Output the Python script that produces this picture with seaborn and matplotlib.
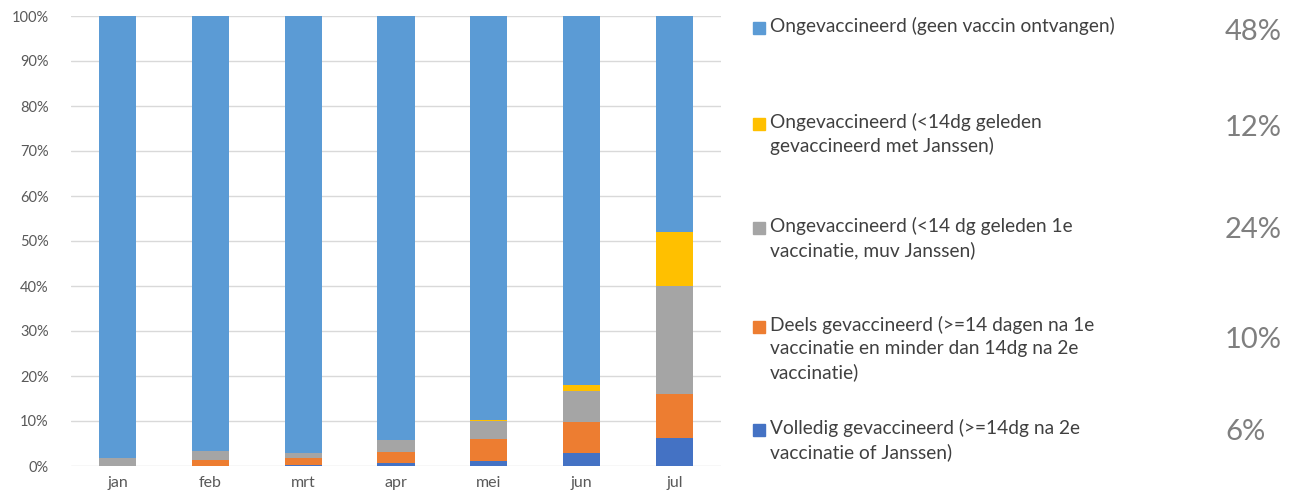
import numpy as np
import pandas as pd
import matplotlib.pyplot as plt
import seaborn as sns
from matplotlib.patches import Rectangle
from matplotlib.ticker import PercentFormatter

# ─────────────────────────────
# DATA  (share of cases, % per month)
# ─────────────────────────────
months = ["jan", "feb", "mrt", "apr", "mei", "jun", "jul"]

volledig   = [0.0, 0.0, 0.3, 0.6, 1.1, 2.8, 6.2]
deels      = [0.0, 1.3, 1.4, 2.5, 4.9, 7.0, 9.8]
onge_1e    = [1.7, 2.1, 1.1, 2.6, 4.1, 6.8, 24.0]
onge_jans  = [0.0, 0.0, 0.0, 0.0, 0.2, 1.3, 12.0]
onge_geen  = [100 - sum(v) for v in zip(volledig, deels, onge_1e, onge_jans)]

legend_labels = [
    "Ongevaccineerd (geen vaccin ontvangen)",
    "Ongevaccineerd (<14dg geleden\ngevaccineerd met Janssen)",
    "Ongevaccineerd (<14 dg geleden 1e\nvaccinatie, muv Janssen)",
    "Deels gevaccineerd (>=14 dagen na 1e\nvaccinatie en minder dan 14dg na 2e\nvaccinatie)",
    "Volledig gevaccineerd (>=14dg na 2e\nvaccinatie of Janssen)",
]
legend_pct = ["48%", "12%", "24%", "10%", "6%"]

# stacking order bottom -> top
layers = [volledig, deels, onge_1e, onge_jans, onge_geen]
colors = ["#4472C4", "#ED7D31", "#A5A5A5", "#FFC000", "#5B9BD5"]

# ─────────────────────────────
# PLOT
# ─────────────────────────────
sns.set_style("white")
plt.rcParams["font.family"] = ["Lato", "DejaVu Sans"]

W, H = 1290, 499
fig = plt.figure(figsize=(W / 100, H / 100), dpi=100)
ax = fig.add_axes([71 / W, 1 - 466 / H, (721 - 71) / W, 450 / H])

bottom = np.zeros(len(months))
for vals, col in zip(layers, colors):
    sns.barplot(x=months, y=vals, bottom=bottom, color=col, width=0.40,
                linewidth=0, saturation=1, ax=ax, zorder=3)
    bottom += np.array(vals)

ax.set_ylim(0, 100)
ax.set_xlim(-0.5, len(months) - 0.5)
ax.set_yticks(range(0, 101, 10))
ax.yaxis.set_major_formatter(PercentFormatter(decimals=0))
ax.grid(axis="y", color="#D9D9D9", linewidth=1, zorder=0)
ax.tick_params(axis="both", length=0, colors="#595959", labelsize=10.5)
ax.tick_params(axis="x", labelsize=11.5, pad=7)
ax.tick_params(axis="y", pad=16)
for s in ax.spines.values():
    s.set_visible(False)
ax.set_xlabel("")
ax.set_ylabel("")

# legend on the right, drawn by hand
leg_colors = colors[::-1]
text_y = [28, 124, 228, 327, 430]
pct_y = [32, 128, 230, 340, 432]
pct_x = [1282, 1282, 1282, 1282, 1266]
for lab, pct, col, ty, py, px in zip(legend_labels, legend_pct, leg_colors,
                                     text_y, pct_y, pct_x):
    fig.patches.append(Rectangle((753 / W, 1 - (ty + 6) / H), 12 / W, 12 / H,
                                 transform=fig.transFigure, color=col))
    fig.text(770 / W, 1 - (ty - 11) / H, lab, fontsize=13.8, color="#404040",
             va="top", ha="left", linespacing=1.42)
    fig.text(px / W, 1 - py / H, pct, fontsize=21, color="#7F7F7F",
             va="center", ha="right")

plt.savefig("out.png", dpi=100)
